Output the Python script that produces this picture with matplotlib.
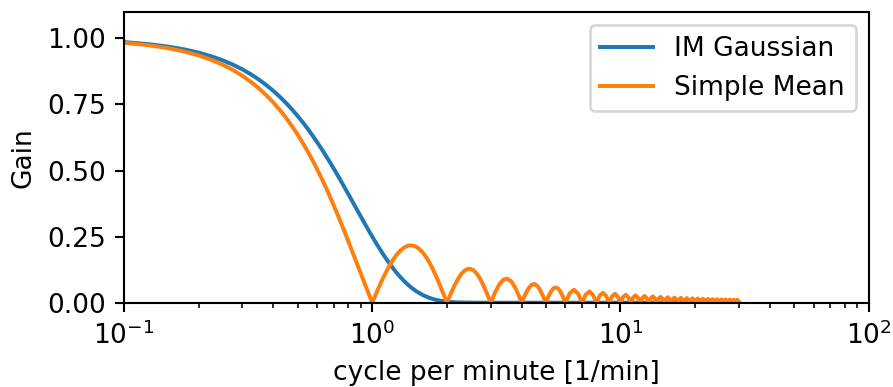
import matplotlib
matplotlib.use("Agg")
import matplotlib.pyplot as plt

# ---- data ----
series_labels = ["IM Gaussian", "Simple Mean"]

freq_gauss = [0.1, 0.125, 0.15, 0.175, 0.2, 0.225, 0.25, 0.275, 0.3, 0.325, 0.35, 0.375,
              0.4, 0.425, 0.45, 0.475, 0.5, 0.525, 0.55, 0.575, 0.6, 0.625, 0.65, 0.675,
              0.7, 0.725, 0.75, 0.775, 0.8, 0.825, 0.85, 0.875, 0.9, 0.925, 0.95, 0.975,
              1.0, 1.05, 1.1, 1.15, 1.2, 1.25, 1.3, 1.35, 1.4, 1.45, 1.5, 1.6, 1.7,
              1.8, 1.9, 2.0, 2.2, 2.5, 3.0, 5.0, 10.0, 30.0]
gain_gauss = [0.98623, 0.97857, 0.96928, 0.95843, 0.94607, 0.93222, 0.91700, 0.90047,
              0.88270, 0.86379, 0.84374, 0.82288, 0.80107, 0.77849, 0.75527, 0.73141,
              0.70711, 0.68243, 0.65752, 0.63233, 0.60696, 0.58186, 0.55657, 0.53173,
              0.50697, 0.48255, 0.45850, 0.43490, 0.41150, 0.38924, 0.36715, 0.34598,
              0.32534, 0.30539, 0.28621, 0.26771,
              0.25000, 0.21689, 0.18685, 0.15987, 0.13584, 0.11463, 0.09606, 0.07994,
              0.06608, 0.05422, 0.04419,
              0.02875, 0.01820, 0.01120, 0.00671, 0.00391, 0.00122, 0.00017, 0.0,
              0.0, 0.0, 0.0]

freq_mean = [
    0.1, 0.125, 0.15, 0.175, 0.2, 0.225, 0.25, 0.275, 0.3, 0.325, 0.35, 0.375, 0.4,
    0.425, 0.45, 0.475, 0.5, 0.525, 0.55, 0.575, 0.6, 0.625, 0.65, 0.675, 0.7, 0.725,
    0.75, 0.775, 0.8, 0.825, 0.85, 0.875, 0.9, 0.925, 0.95, 0.975, 1.0,
    1.05, 1.1, 1.15, 1.2, 1.25, 1.3, 1.35, 1.4, 1.45, 1.5, 1.55, 1.6, 1.65, 1.7, 1.75,
    1.8, 1.85, 1.9, 1.95, 2.0,
    2.05, 2.1, 2.15, 2.2, 2.25, 2.3, 2.35, 2.4, 2.45, 2.5, 2.55, 2.6, 2.65, 2.7, 2.75,
    2.8, 2.85, 2.9, 2.95, 3.0,
    3.125, 3.25, 3.375, 3.5, 3.625, 3.75, 3.875, 4.0,
    4.125, 4.25, 4.375, 4.5, 4.625, 4.75, 4.875, 5.0,
    5.125, 5.25, 5.375, 5.5, 5.625, 5.75, 5.875, 6.0,
    6.25, 6.5, 6.75, 7.0, 7.25, 7.5, 7.75, 8.0, 8.25, 8.5, 8.75, 9.0,
    9.25, 9.5, 9.75, 10.0, 10.25, 10.5, 10.75, 11.0, 11.25, 11.5, 11.75, 12.0,
    12.25, 12.5, 12.75, 13.0, 13.25, 13.5, 13.75, 14.0, 14.25, 14.5, 14.75, 15.0,
    15.25, 15.5, 15.75, 16.0, 16.25, 16.5, 16.75, 17.0, 17.25, 17.5, 17.75, 18.0,
    18.25, 18.5, 18.75, 19.0, 19.25, 19.5, 19.75, 20.0, 20.25, 20.5, 20.75, 21.0,
    21.25, 21.5, 21.75, 22.0, 22.25, 22.5, 22.75, 23.0, 23.25, 23.5, 23.75, 24.0,
    24.25, 24.5, 24.75, 25.0, 25.25, 25.5, 25.75, 26.0, 26.25, 26.5, 26.75, 27.0,
    27.25, 27.5, 27.75, 28.0, 28.25, 28.5, 28.75, 29.0, 29.25, 29.5, 29.75, 30.0]
gain_mean = [
    0.98363, 0.97450, 0.96340, 0.95038, 0.93549, 0.91878, 0.90032, 0.88016, 0.85839,
    0.83509, 0.81033, 0.78421, 0.75683, 0.72827, 0.69865, 0.66806, 0.63662, 0.60444,
    0.57162, 0.53828, 0.50455, 0.47053, 0.43633, 0.40208, 0.36788, 0.33386, 0.30011,
    0.26674, 0.23387, 0.20160, 0.17001, 0.13921, 0.10929, 0.08033, 0.05242, 0.02562, 0.0,
    0.04742, 0.08942, 0.12566, 0.15592, 0.18007, 0.19809, 0.21009, 0.21624, 0.21682,
    0.21221, 0.20283, 0.18921, 0.17189, 0.15148, 0.12862, 0.10394, 0.07811, 0.05177,
    0.02554, 0.0,
    0.02429, 0.04684, 0.06721, 0.08505, 0.10004, 0.11196, 0.12069, 0.12614, 0.12832,
    0.12732, 0.12329, 0.11644, 0.10703, 0.09538, 0.08185, 0.06682, 0.05071, 0.03392,
    0.01688, 0.0,
    0.03898, 0.06926, 0.08713, 0.09095, 0.08113, 0.06002, 0.03144, 0.0,
    0.02953, 0.05296, 0.06722, 0.07074, 0.06358, 0.04738, 0.02499, 0.0,
    0.02377, 0.04287, 0.05471, 0.05787, 0.05228, 0.03914, 0.02073, 0.0,
    0.03601, 0.04897, 0.03335, 0.0, 0.03105, 0.04244, 0.02904, 0.0,
    0.02728, 0.03745, 0.02572, 0.0, 0.02433, 0.03351, 0.02309, 0.0,
    0.02196, 0.03032, 0.02094, 0.0, 0.02001, 0.02768, 0.01916, 0.0,
    0.01837, 0.02546, 0.01765, 0.0, 0.01699, 0.02358, 0.01637, 0.0,
    0.01580, 0.02195, 0.01526, 0.0, 0.01476, 0.02054, 0.01429, 0.0,
    0.01385, 0.01929, 0.01344, 0.0, 0.01305, 0.01819, 0.01268, 0.0,
    0.01233, 0.01721, 0.01200, 0.0, 0.01169, 0.01632, 0.01140, 0.0,
    0.01112, 0.01553, 0.01085, 0.0, 0.01059, 0.01480, 0.01035, 0.0,
    0.01012, 0.01415, 0.00989, 0.0, 0.00968, 0.01355, 0.00948, 0.0,
    0.00928, 0.01299, 0.00909, 0.0, 0.00891, 0.01248, 0.00874, 0.0,
    0.00857, 0.01201, 0.00841, 0.0, 0.00826, 0.01157, 0.00811, 0.0,
    0.00797, 0.01117, 0.00783, 0.0, 0.00770, 0.01079, 0.00757, 0.0]

yticks = [0.0, 0.25, 0.5, 0.75, 1.0]

plt.rcParams["font.family"] = ["DejaVu Sans"]
plt.rcParams["font.size"] = 10

DPI = 190
fig = plt.figure(figsize=(893 / DPI, 387 / DPI), dpi=DPI)
ax = fig.add_axes([0.1389, 0.2178, 0.8339, 0.7512])

ax.plot(freq_gauss, gain_gauss, color="#1f77b4", lw=1.5, label=series_labels[0])
ax.plot(freq_mean, gain_mean, color="#ff7f0e", lw=1.5, label=series_labels[1])

ax.set_xscale("log")
ax.set_xlim(0.1, 100)
ax.set_ylim(0, 1.1)
ax.set_yticks(yticks)
ax.set_yticklabels([f"{v:.2f}" for v in yticks])
ax.set_xlabel("cycle per minute [1/min]")
ax.set_ylabel("Gain")
ax.legend(loc="upper right")

fig.savefig("out.png", dpi=DPI)
